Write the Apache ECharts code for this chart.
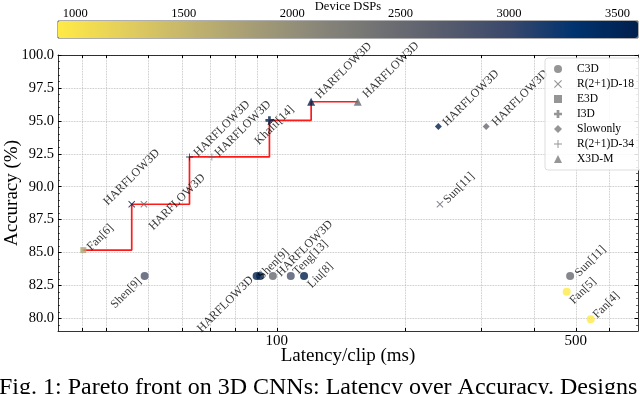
<!DOCTYPE html>
<html>
<head>
<meta charset="utf-8">
<script src="https://cdn.jsdelivr.net/npm/echarts@6/dist/echarts.min.js"></script>
<style>
  html, body { margin: 0; padding: 0; background: #fff; }
  #myEcharts { width: 640px; height: 394px; }
</style>
</head>
<body>
<div id="myEcharts"></div>
<script>
// latency/clip (ms), accuracy (%), device DSPs and annotation for each model
const c3dLatency = [49.1, 89.7, 91.4, 97.9, 107.8, 115.8, 484.8, 476, 541.6];
const c3dAccuracy = [83.22, 83.22, 83.22, 83.22, 83.22, 83.22, 83.22, 82.03, 79.94];
const c3dDsp = [2800, 3600, 3600, 2520, 2800, 3600, 2520, 900, 900];
const c3dLabel = ['Shen[9]', 'HARFLOW3D', 'Shen[9]', 'HARFLOW3D', 'Teng[13]', 'Liu[8]', 'Sun[11]', 'Fan[5]', 'Fan[4]'];

const r18Latency = [45.8, 48.9, 240.6];
const r18Accuracy = [88.67, 88.67, 88.67];
const r18Dsp = [3600, 2520, 2520];
const r18Label = ['HARFLOW3D', 'HARFLOW3D', 'Sun[11]'];

const e3dLatency = [35.3];
const e3dAccuracy = [85.19];
const e3dDsp = [1728];
const e3dLabel = ['Fan[6]'];

const i3dLatency = [96.1];
const i3dAccuracy = [95.04];
const i3dDsp = [3600];
const i3dLabel = ['Khalil[14]'];

const slowLatency = [238.6, 308.6];
const slowAccuracy = [94.58, 94.58];
const slowDsp = [3600, 2520];
const slowLabel = ['HARFLOW3D', 'HARFLOW3D'];

const r34Latency = [62.5, 70.5];
const r34Accuracy = [92.26, 92.26];
const r34Dsp = [3600, 2520];
const r34Label = ['HARFLOW3D', 'HARFLOW3D'];

const x3dLatency = [120.3, 154.6];
const x3dAccuracy = [96.45, 96.45];
const x3dDsp = [3600, 2520];
const x3dLabel = ['HARFLOW3D', 'HARFLOW3D'];

// pareto front
const paretoLatency = [35.3, 45.8, 62.5, 96.1, 120.3, 154.6];
const paretoAccuracy = [85.19, 88.67, 92.26, 95.04, 96.45, 96.45];

// ticks
const yTicks = [80, 82.5, 85, 87.5, 90, 92.5, 95, 97.5, 100];
const yMinorTicks = [79.5, 80.5, 81, 81.5, 82, 83, 83.5, 84, 84.5, 85.5, 86, 86.5, 87, 88, 88.5, 89, 89.5,
  90.5, 91, 91.5, 92, 93, 93.5, 94, 94.5, 95.5, 96, 96.5, 97, 98, 98.5, 99, 99.5];
const xGridValues = [35, 40, 50, 60, 70, 80, 90, 100, 200, 300, 400, 500, 600];
const xTickLabels = [100, 500];
const dspTicks = [1000, 1500, 2000, 2500, 3000, 3500];

const cividisR = ['#FFEA46', '#E4CF5B', '#C4B56C', '#A69D75', '#8A8779', '#707173', '#575C6D', '#39486B', '#00336F', '#00204D'];

const shapes = {
  cross: 'path://M1,0L5,4L9,0L10,1L6,5L10,9L9,10L5,6L1,10L0,9L4,5L0,1Z',
  thinPlus: 'path://M4.4,0H5.6V4.4H10V5.6H5.6V10H4.4V5.6H0V4.4H4.4Z',
  fatPlus: 'path://M3.3,0H6.7V3.3H10V6.7H6.7V10H3.3V6.7H0V3.3H3.3Z'
};

// label nudges along / across the 45deg text direction (pixels)
const nudges = {
  'C3D': [[-25, -1], [-42, -2], [18, 1], [42, 3], [27, 1], [12, 11], [25, 4], [12, 11], [21, 1]],
  'R(2+1)D-18': [[19, -19], [25, 22], [25, 2]],
  'E3D': [[21, 3]],
  'I3D': [[0, 7]],
  'Slowonly': [[43, 3], [44, 4]],
  'R(2+1)D-34': [[43, 3], [42, 2]],
  'X3D-M': [[45, 1], [46, 1]]
};

function scatter(name, lat, acc, dsp, labels, symbol, size) {
  return {
    name: name,
    type: 'scatter',
    symbol: symbol,
    symbolSize: size,
    z: 3,
    itemStyle: { color: '#7a7a7a' },
    data: lat.map((x, i) => ({
      name: labels[i],
      value: [x, acc[i], dsp[i]],
      label: { offset: nudges[name][i] }
    })),
    label: {
      show: true,
      position: 'inside',
      rotate: 45,
      align: 'center',
      verticalAlign: 'middle',
      color: '#000',
      fontSize: 12,
      formatter: p => p.name
    }
  };
}

const series = [
  scatter('C3D', c3dLatency, c3dAccuracy, c3dDsp, c3dLabel, 'circle', 8),
  scatter('R(2+1)D-18', r18Latency, r18Accuracy, r18Dsp, r18Label, shapes.cross, 7),
  scatter('E3D', e3dLatency, e3dAccuracy, e3dDsp, e3dLabel, 'rect', 6),
  scatter('I3D', i3dLatency, i3dAccuracy, i3dDsp, i3dLabel, shapes.fatPlus, 8),
  scatter('Slowonly', slowLatency, slowAccuracy, slowDsp, slowLabel, 'diamond', 7),
  scatter('R(2+1)D-34', r34Latency, r34Accuracy, r34Dsp, r34Label, shapes.thinPlus, 7),
  scatter('X3D-M', x3dLatency, x3dAccuracy, x3dDsp, x3dLabel, 'triangle', 8),
  {
    type: 'line',
    step: 'end',
    symbol: 'none',
    z: 2,
    silent: true,
    lineStyle: { color: '#ff1a1a', width: 1.7 },
    data: paretoLatency.map((x, i) => [x, paretoAccuracy[i]])
  }
];

const grid0Axis = { type: 'log', logBase: 10, min: 30.8, max: 698.6 };

echarts.init(document.getElementById('myEcharts')).setOption({
  animation: false,
  textStyle: { fontFamily: 'Liberation Serif', color: '#000' },
  grid: [
    { left: 58, right: 2, top: 55, bottom: 63, outerBoundsMode: 'none' },
    { left: 58, right: 2, top: 21, height: 17, outerBoundsMode: 'none', show: true, borderColor: '#333', borderWidth: 0.8, backgroundColor: 'transparent' }
  ],
  xAxis: [
    Object.assign({}, grid0Axis, {
      gridIndex: 0,
      position: 'bottom',
      name: 'Latency/clip (ms)',
      nameLocation: 'middle',
      nameGap: 16,
      nameMoveOverlap: false,
      nameTextStyle: { fontSize: 19, color: '#000' },
      axisLine: { lineStyle: { color: '#000', width: 0.8 } },
      axisTick: { inside: true, length: 3, customValues: xGridValues, lineStyle: { color: '#000' } },
      axisLabel: { customValues: xTickLabels, fontSize: 15, color: '#000', margin: 3 },
      splitLine: { show: true, lineStyle: { color: '#b5b5b5', type: 'dotted', width: 0.8 } }
    }),
    {
      gridIndex: 1, type: 'value', min: 920, max: 3595, position: 'top',
      name: 'Device DSPs', nameLocation: 'middle', nameGap: 8, nameMoveOverlap: false,
      nameTextStyle: { fontSize: 12.5, color: '#000' },
      axisLine: { show: false }, axisTick: { show: false }, splitLine: { show: false },
      axisLabel: { customValues: dspTicks, fontSize: 12.5, color: '#000', margin: 1, formatter: v => String(v) }
    },
    Object.assign({}, grid0Axis, {
      gridIndex: 0,
      position: 'top',
      axisLine: { show: true, lineStyle: { color: '#000', width: 0.8 } },
      axisTick: { inside: true, length: 3, customValues: xGridValues, lineStyle: { color: '#000' } },
      axisLabel: { show: false },
      splitLine: { show: false }
    })
  ],
  yAxis: [
    {
      gridIndex: 0, type: 'value', min: 79.05, max: 100,
      name: 'Accuracy (%)', nameLocation: 'middle', nameGap: 36, nameMoveOverlap: false,
      nameTextStyle: { fontSize: 19, color: '#000' },
      axisLine: { show: true, lineStyle: { color: '#000', width: 0.8 } },
      axisTick: { inside: true, length: 3.5, customValues: yTicks, lineStyle: { color: '#000' } },
      axisLabel: { customValues: yTicks, fontSize: 14.5, color: '#000', margin: 4, formatter: v => v.toFixed(1) },
      splitLine: { show: true, lineStyle: { color: '#b5b5b5', type: 'dotted', width: 0.8 } }
    },
    { gridIndex: 1, type: 'value', min: 0, max: 1, show: false },
    {
      gridIndex: 0, type: 'value', min: 79.05, max: 100, position: 'right',
      axisLine: { show: true, lineStyle: { color: '#000', width: 0.8 } },
      axisTick: { inside: true, length: 3.5, customValues: yTicks, lineStyle: { color: '#000' } },
      axisLabel: { show: false }, splitLine: { show: false }
    },
    {
      gridIndex: 0, type: 'value', min: 79.05, max: 100, position: 'left',
      axisLine: { show: false },
      axisTick: { inside: true, length: 2, customValues: yMinorTicks, lineStyle: { color: '#000', width: 0.6 } },
      axisLabel: { show: false }, splitLine: { show: false }
    },
    {
      gridIndex: 0, type: 'value', min: 79.05, max: 100, position: 'right',
      axisLine: { show: false },
      axisTick: { inside: true, length: 2, customValues: yMinorTicks, lineStyle: { color: '#000', width: 0.6 } },
      axisLabel: { show: false }, splitLine: { show: false }
    }
  ],
  visualMap: {
    type: 'continuous',
    seriesIndex: [0, 1, 2, 3, 4, 5, 6],
    dimension: 2,
    min: 920,
    max: 3595,
    orient: 'horizontal',
    left: 58,
    top: 21,
    itemWidth: 17,
    itemHeight: 580,
    padding: 0,
    calculable: false,
    hoverLink: false,
    inRange: { color: cividisR }
  },
  legend: {
    data: ['C3D', 'R(2+1)D-18', 'E3D', 'I3D', 'Slowonly', 'R(2+1)D-34', 'X3D-M'],
    orient: 'vertical',
    left: 545,
    top: 58,
    padding: [5, 8, 5, 9],
    itemGap: 3,
    itemWidth: 8,
    itemHeight: 8,
    backgroundColor: 'rgba(255,255,255,0.85)',
    borderColor: '#ddd',
    borderWidth: 1,
    borderRadius: 3,
    textStyle: { fontSize: 11.5, color: '#000', padding: [0, 0, 0, 10] }
  },
  graphic: [{
    type: 'text',
    left: -1,
    top: 376,
    style: {
      text: 'Fig. 1: Pareto front on 3D CNNs: Latency over Accuracy. Designs',
      font: '24px "Liberation Serif"',
      fill: '#000'
    }
  }],
  series: series
});
</script>
</body>
</html>
